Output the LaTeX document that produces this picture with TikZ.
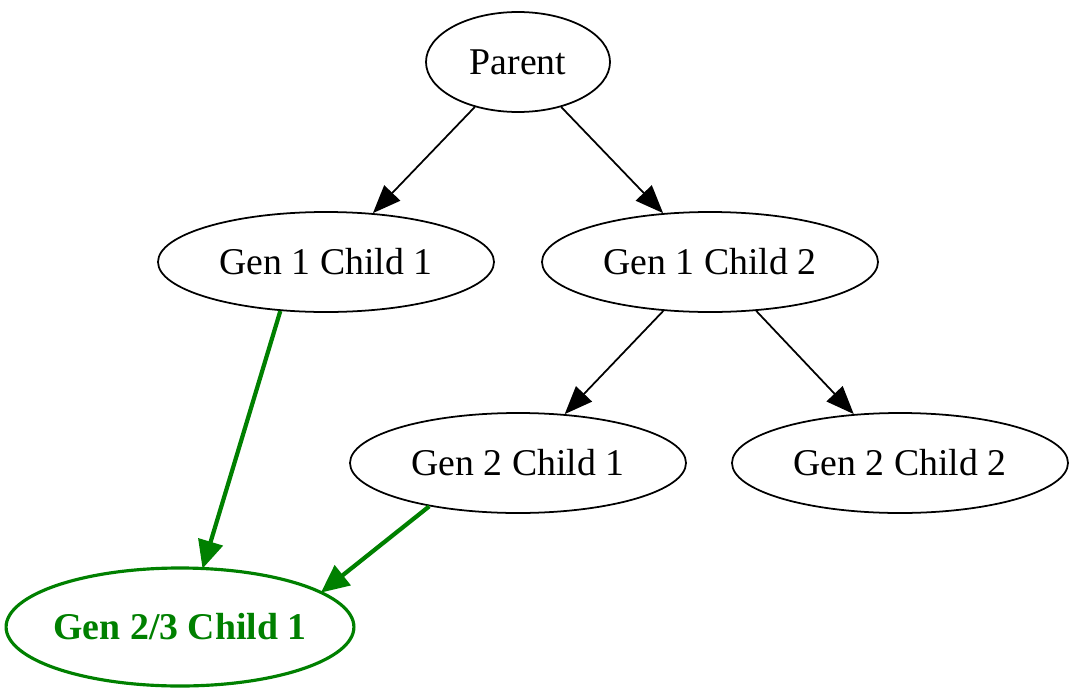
\documentclass[tikz,border=0pt]{standalone}
\usepackage{fontspec}
\setmainfont{Liberation Serif}
\usetikzlibrary{shapes.geometric,arrows.meta}
\definecolor{linkgreen}{RGB}{0,128,0}

\begin{document}
\begin{tikzpicture}[
  member/.style={draw, ellipse, line width=1pt, inner sep=0pt,
    minimum width=6.72cm, minimum height=2cm,
    font=\fontsize{21.5}{26}\selectfont},
  merged/.style={member, draw=linkgreen, text=linkgreen, line width=1.8pt,
    inner xsep=-2pt, minimum width=6.92cm, minimum height=2.36cm,
    font=\fontsize{21.5}{26}\selectfont\bfseries},
  tree/.style={line width=1pt, -{Triangle[length=0.56cm, width=0.44cm]}},
  link/.style={draw=linkgreen, line width=2.4pt,
    -{Triangle[length=0.56cm, width=0.5cm]}, shorten >=-1pt}
]
\useasboundingbox (0,0) rectangle (21.62,-14);

% nodes
\node [member, minimum width=3.68cm] (P) at (10.36, -1.24) {Parent};
\node [member] (A) at (6.52, -5.24) {Gen 1 Child 1};
\node [member] (B) at (14.2, -5.24) {Gen 1 Child 2};
\node [member] (C) at (10.36, -9.26) {Gen 2 Child 1};
\node [member] (D) at (18.0, -9.26) {Gen 2 Child 2};
\node [merged] (E) at (3.6, -12.54) {Gen 2/3 Child 1};

% arrows
\draw [tree] (P) to (A);
\draw [tree] (P) to (B);
\draw [tree] (B) to (C);
\draw [tree] (B) to (D);

\draw [link] (A.227) to (E.69);
\draw [link] (C.206) to (E.14);

\end{tikzpicture}
\end{document}
